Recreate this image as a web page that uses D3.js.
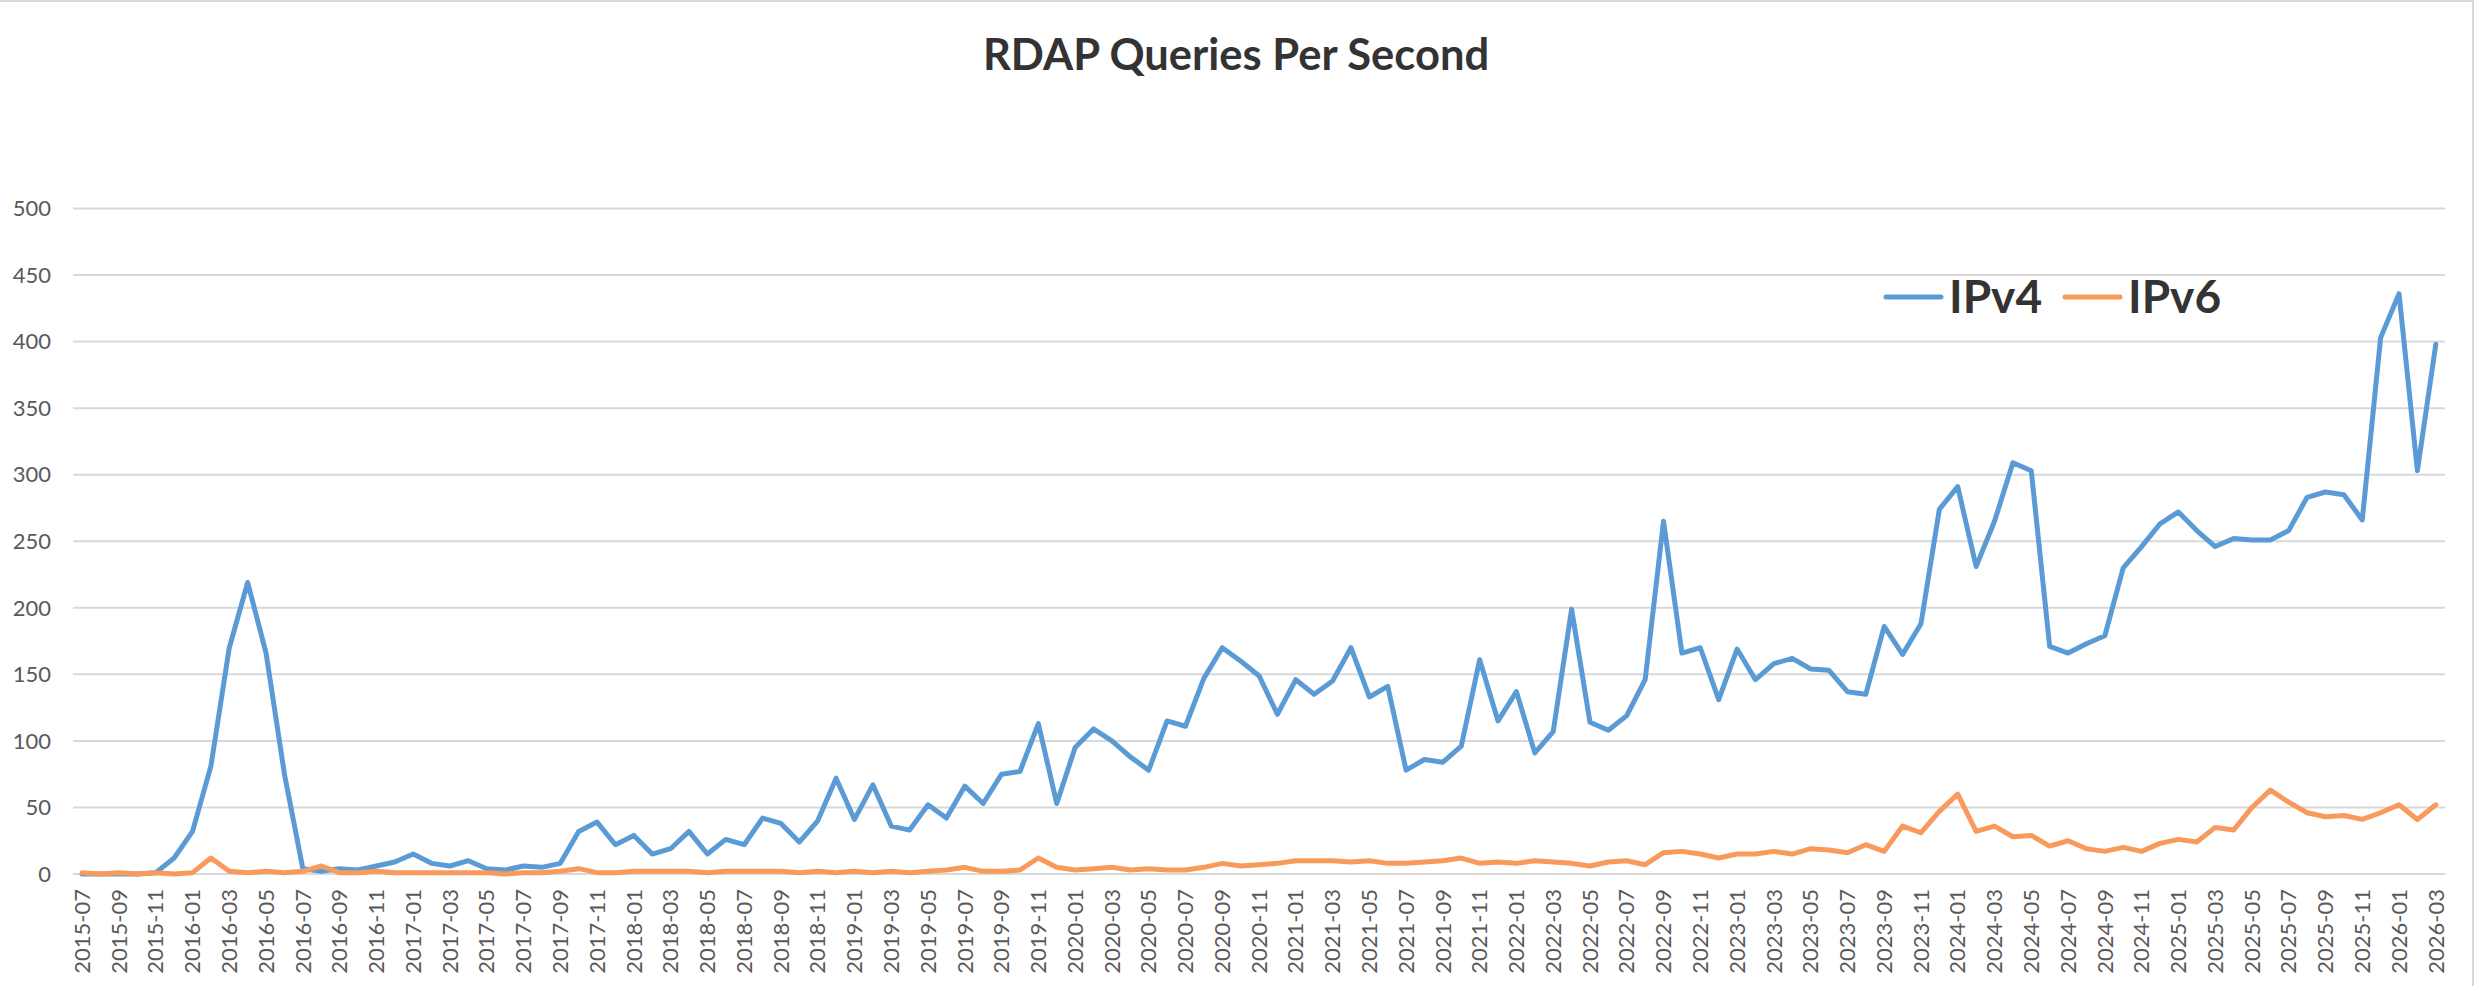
<!DOCTYPE html>
<html>
<head>
<meta charset="utf-8">
<script src="https://cdn.jsdelivr.net/npm/d3@7"></script>
<style>
  body { margin: 0; background: #fff; }
  svg { display: block; font-family: Lato, "Open Sans", sans-serif; }
</style>
</head>
<body>
<div id="chart"></div>
<script>
const title = 'RDAP Queries Per Second';
const seriesNames = ['IPv4', 'IPv6'];
const seriesColors = ['#5b9bd5', '#f79a5b'];

// one category per month, 2015-07 .. 2026-03
const months = d3.timeMonth
  .range(new Date(2015, 6, 1), new Date(2026, 3, 1))
  .map(d3.timeFormat('%Y-%m'));

const ipv4 = [
  0, 0, 0, 0, 1, 12, 32, 81, 170, 219, 166, 75, 4, 2, 4, 3, 6, 9, 15,
  8, 6, 10, 4, 3, 6, 5, 8, 32, 39, 22, 29, 15, 19, 32, 15, 26, 22, 42,
  38, 24, 40, 72, 41, 67, 36, 33, 52, 42, 66, 53, 75, 77, 113, 53, 95, 109,
  100, 88, 78, 115, 111, 147, 170, 160, 149, 120, 146, 135, 145, 170, 133, 141, 78, 86, 84,
  96, 161, 115, 137, 91, 107, 199, 114, 108, 119, 146, 265, 166, 170, 131, 169, 146, 158,
  162, 154, 153, 137, 135, 186, 165, 188, 274, 291, 231, 265, 309, 303, 171, 166, 173, 179, 230,
  246, 263, 272, 258, 246, 252, 251, 251, 258, 283, 287, 285, 266, 403, 436, 303, 398
];

const ipv6 = [
  1, 0, 1, 0, 1, 0, 1, 12, 2, 1, 2, 1, 2, 6, 1, 1, 2, 1, 1,
  1, 1, 1, 1, 0, 1, 1, 2, 4, 1, 1, 2, 2, 2, 2, 1, 2, 2, 2,
  2, 1, 2, 1, 2, 1, 2, 1, 2, 3, 5, 2, 2, 3, 12, 5, 3, 4,
  5, 3, 4, 3, 3, 5, 8, 6, 7, 8, 10, 10, 10, 9, 10, 8, 8, 9, 10,
  12, 8, 9, 8, 10, 9, 8, 6, 9, 10, 7, 16, 17, 15, 12, 15, 15, 17,
  15, 19, 18, 16, 22, 17, 36, 31, 47, 60, 32, 36, 28, 29, 21, 25, 19, 17, 20,
  17, 23, 26, 24, 35, 33, 50, 63, 54, 46, 43, 44, 41, 46, 52, 41, 52
];

const yTicks = [0, 50, 100, 150, 200, 250, 300, 350, 400, 450, 500];

const width = 2476;
const height = 986;
const plot = { left: 73, right: 2445, top: 208.5, bottom: 874 };

const svg = d3
  .select('#chart')
  .append('svg')
  .attr('width', width)
  .attr('height', height);

// chart area border (only top and right edges show in the original)
svg.append('line')
  .attr('x1', 0).attr('x2', width - 2).attr('y1', 1).attr('y2', 1)
  .attr('stroke', '#d9d9d9').attr('stroke-width', 2);
svg.append('line')
  .attr('x1', width - 3).attr('x2', width - 3).attr('y1', 0).attr('y2', height)
  .attr('stroke', '#d9d9d9').attr('stroke-width', 2);

const x = d3.scalePoint()
  .domain(months)
  .range([plot.left, plot.right])
  .padding(0.5);

const y = d3.scaleLinear()
  .domain([0, 500])
  .range([plot.bottom, plot.top]);

// gridlines
svg.append('g')
  .selectAll('line')
  .data(yTicks)
  .join('line')
  .attr('x1', plot.left)
  .attr('x2', plot.right)
  .attr('y1', (d) => y(d))
  .attr('y2', (d) => y(d))
  .attr('stroke', '#d9d9d9')
  .attr('stroke-width', 2);

// y labels
svg.append('g')
  .selectAll('text')
  .data(yTicks)
  .join('text')
  .attr('x', 51)
  .attr('y', (d) => y(d))
  .attr('dy', '0.35em')
  .attr('text-anchor', 'end')
  .attr('fill', '#595959')
  .style('font-size', '22px')
  .text((d) => d);

// x labels, every second month, rotated
svg.append('g')
  .selectAll('text')
  .data(months.filter((m, i) => i % 2 === 0))
  .join('text')
  .attr('transform', (d) => `translate(${x(d)},889) rotate(-90)`)
  .attr('dy', '0.35em')
  .attr('text-anchor', 'end')
  .attr('fill', '#595959')
  .style('font-size', '22px')
  .text((d) => d);

// series lines
const line = d3.line()
  .x((d, i) => x(months[i]))
  .y((d) => y(d));

[ipv4, ipv6].forEach((values, k) => {
  svg.append('path')
    .datum(values)
    .attr('fill', 'none')
    .attr('stroke', seriesColors[k])
    .attr('stroke-width', 5)
    .attr('stroke-linejoin', 'round')
    .attr('stroke-linecap', 'round')
    .attr('d', line);
});

// title
svg.append('text')
  .attr('x', 1236)
  .attr('y', 70)
  .attr('text-anchor', 'middle')
  .attr('fill', '#333')
  .style('font-size', '43.5px')
  .style('font-weight', 'bold')
  .text(title);

// legend
const legendX = [1886, 2065];
const legend = svg.append('g')
  .selectAll('g')
  .data(seriesNames)
  .join('g')
  .attr('transform', (d, i) => `translate(${legendX[i]},297)`);

legend.append('line')
  .attr('x1', 0)
  .attr('x2', 55)
  .attr('stroke', (d, i) => seriesColors[i])
  .attr('stroke-width', 5)
  .attr('stroke-linecap', 'round');

legend.append('text')
  .attr('x', 63)
  .attr('y', 16)
  .attr('fill', '#333')
  .style('font-size', '46px')
  .style('font-weight', 'bold')
  .text((d) => d);
</script>
</body>
</html>
